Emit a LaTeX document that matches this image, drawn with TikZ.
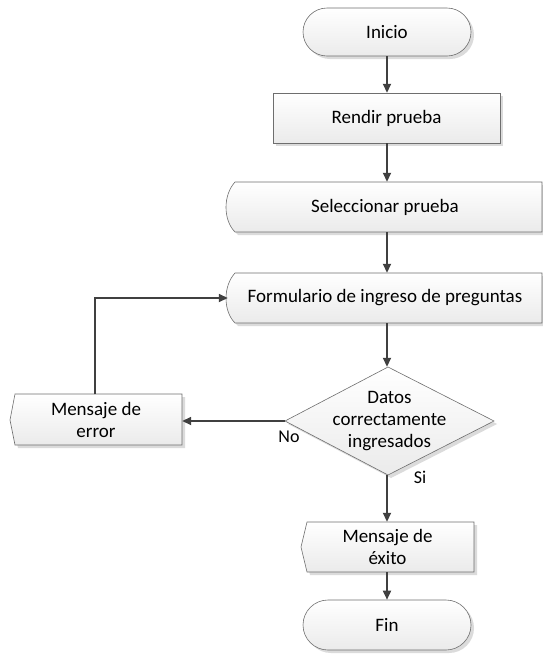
\documentclass[tikz,border=0pt]{standalone}
\usepackage{fontspec}
\setmainfont{Carlito}
\usetikzlibrary{arrows.meta,shapes.misc,shadows}
\definecolor{lineg}{HTML}{404040}
\definecolor{edgeg}{HTML}{6E6E6E}
\begin{document}
\begin{tikzpicture}[x=1pt,y=-1pt,
  conn/.style={draw=lineg, line width=1.7pt, -{Triangle[length=9pt,width=8pt]}},
  shp/.style={draw=edgeg, line width=0.6pt, top color=white, bottom color=black!8},
  shd/.style={fill=black!14, draw=none},
  box/.style={draw=none, inner sep=0pt, font=\fontsize{19}{22}\selectfont, align=center},
  term/.style={rounded rectangle, shp, inner sep=0pt, font=\fontsize{19}{22}\selectfont,
    drop shadow={shadow xshift=3pt, shadow yshift=-3pt, fill=black!14, opacity=1}},
  lbl/.style={font=\fontsize{18}{21}\selectfont, inner sep=0pt}
]
\useasboundingbox (0,0) rectangle (543,662);

% Inicio
\node[term, minimum width=168pt, minimum height=48pt] (ini) at (387,32) {Inicio};

% Rendir prueba
\fill[shd] (276,96) rectangle (503,146);
\draw[shp] (273,93) rectangle (500,143);
\node[box, minimum width=227pt, minimum height=50pt] (ren) at (386.5,118) {Rendir prueba};

% Seleccionar prueba
\fill[shd] (238,185) .. controls (226,198) and (226,223) .. (238,235) -- (545,235) -- (545,185) -- cycle;
\draw[shp] (235,182) .. controls (223,195) and (223,220) .. (235,232) -- (542,232) -- (542,182) -- cycle;
\node[box, minimum width=314pt, minimum height=50pt] (sel) at (385,207) {Seleccionar prueba};

% Formulario
\fill[shd] (238,276) .. controls (226,289) and (226,314) .. (238,326) -- (545,326) -- (545,276) -- cycle;
\draw[shp] (235,273) .. controls (223,286) and (223,311) .. (235,323) -- (542,323) -- (542,273) -- cycle;
\node[box, minimum width=314pt, minimum height=50pt] (form) at (385,298) {Formulario de ingreso de preguntas};

% Decision
\fill[shd] (391,370) -- (497,424) -- (391,478) -- (288,424) -- cycle;
\draw[shp] (388,367) -- (494,421) -- (388,475) -- (285,421) -- cycle;
\node[box, minimum width=209pt, minimum height=108pt] (dec) at (389.5,421) {Datos\\correctamente\\ingresados};

% Mensaje de error
\fill[shd] (18,397) -- (185,397) -- (185,448) -- (18,448) -- (13,423) -- cycle;
\draw[shp] (15,394) -- (182,394) -- (182,445) -- (15,445) -- (10,420) -- cycle;
\node[box, minimum width=172pt, minimum height=51pt] (err) at (96,420) {Mensaje de\\error};

% Mensaje de exito
\fill[shd] (310,525) -- (477,525) -- (477,575) -- (310,575) -- (304,550) -- cycle;
\draw[shp] (307,522) -- (474,522) -- (474,572) -- (307,572) -- (301,547) -- cycle;
\node[box, minimum width=173pt, minimum height=50pt] (exi) at (387.5,547) {Mensaje de\\éxito};

% Fin
\node[term, minimum width=168pt, minimum height=50pt] (fin) at (387,625) {Fin};

% connectors
\draw[conn] (ini.south) -- (ini.south |- ren.north);
\draw[conn] (ini.south |- ren.south) -- (ini.south |- sel.north);
\draw[conn] (ini.south |- sel.south) -- (ini.south |- form.north);
\draw[conn] (ini.south |- form.south) -- (ini.south |- dec.north);
\draw[conn] (ini.south |- dec.south) -- (ini.south |- exi.north);
\draw[conn] (ini.south |- exi.south) -- (fin.north);
\draw[conn] (dec.west) -- (err.east |- dec.west);
\draw[conn] ([xshift=-1pt]err.north) |- (form.west);

\node[lbl] (no) at (289,437) {No};
\node[lbl] (si) at (420,477) {Si};
\end{tikzpicture}
\end{document}
